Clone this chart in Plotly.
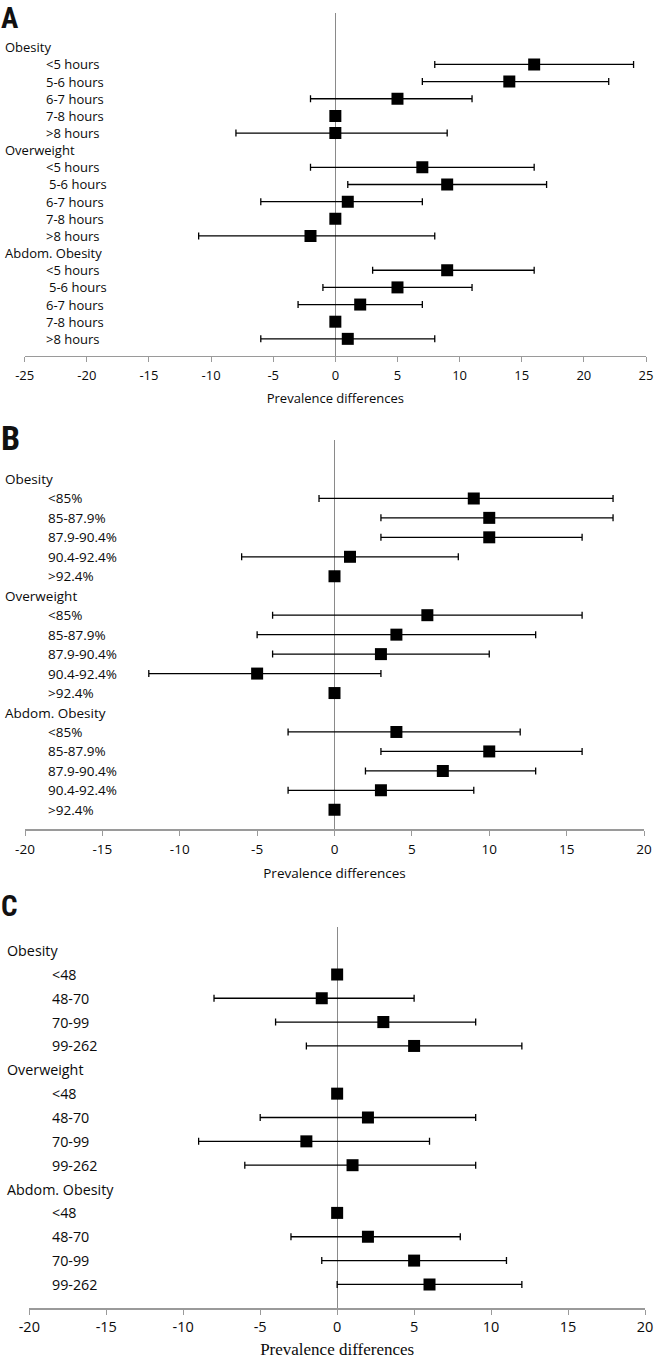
import plotly.graph_objects as go

W, H = 654, 1359

# ---------------- data ----------------
groups = ["Obesity", "Overweight", "Abdom. Obesity"]

A_categories = ["<5 hours", "5-6 hours", "6-7 hours", "7-8 hours", ">8 hours"]
A_estimate = [16, 14, 5, 0, 0,   7, 9, 1, 0, -2,   9, 5, 2, 0, 1]
A_lower    = [8, 7, -2, 0, -8,  -2, 1, -6, 0, -11,  3, -1, -3, 0, -6]
A_upper    = [24, 22, 11, 0, 9,  16, 17, 7, 0, 8,   16, 11, 7, 0, 8]
A_ticks = [-25, -20, -15, -10, -5, 0, 5, 10, 15, 20, 25]

B_categories = ["<85%", "85-87.9%", "87.9-90.4%", "90.4-92.4%", ">92.4%"]
B_estimate = [9, 10, 10, 1, 0,   6, 4, 3, -5, 0,   4, 10, 7, 3, 0]
B_lower    = [-1, 3, 3, -6, 0,  -4, -5, -4, -12, 0,  -3, 3, 2, -3, 0]
B_upper    = [18, 18, 16, 8, 0,  16, 13, 10, 3, 0,   12, 16, 13, 9, 0]
B_ticks = [-20, -15, -10, -5, 0, 5, 10, 15, 20]

C_categories = ["<48", "48-70", "70-99", "99-262"]
C_estimate = [0, -1, 3, 5,   0, 2, -2, 1,   0, 2, 5, 6]
C_lower    = [0, -8, -4, -2,  0, -5, -9, -6,  0, -3, -1, 0]
C_upper    = [0, 5, 9, 12,   0, 9, 6, 9,    0, 8, 11, 12]
C_ticks = [-20, -15, -10, -5, 0, 5, 10, 15, 20]

x_title = "Prevalence differences"

# ---------------- layout of panels (pixel geometry) ----------------
panels = [
    dict(letter="A", cats=A_categories, est=A_estimate, lo=A_lower, hi=A_upper, ticks=A_ticks,
         xpx=(24.7, 646.0), ypx=(13, 356), yr=(18, -2), lab_fs=13, tick_fs=13,
         hx=3, ix=44, letter_y=0, letter_fs=29, title_font="Open Sans", title_fs=13,
         standoff=11, tls=2, indent=3),
    dict(letter="B", cats=B_categories, est=B_estimate, lo=B_lower, hi=B_upper, ticks=B_ticks,
         xpx=(25, 644), ypx=(440, 829.3), yr=(18, -2), lab_fs=13.5, tick_fs=13.5,
         hx=3, ix=45.7, letter_y=417, letter_fs=34, title_font="Open Sans", title_fs=13.5,
         standoff=11, tls=2, indent=0),
    dict(letter="C", cats=C_categories, est=C_estimate, lo=C_lower, hi=C_upper, ticks=C_ticks,
         xpx=(29.3, 645), ypx=(926.7, 1308.3), yr=(15, -1), lab_fs=14.3, tick_fs=14.5,
         hx=5.3, ix=50, letter_y=888, letter_fs=29, title_font="Liberation Serif", title_fs=17,
         standoff=11, tls=0, indent=0),
]

fig = go.Figure()
annotations = []
layout = dict(
    width=W, height=H,
    margin=dict(l=0, r=0, t=0, b=0),
    paper_bgcolor="white", plot_bgcolor="white",
    showlegend=False,
)

LAB_FONT = "Open Sans"
TXT = "#0a0a0a"
for k, p in enumerate(panels):
    sfx = "" if k == 0 else str(k + 1)
    xa, ya = "x" + sfx, "y" + sfx
    n = len(p["cats"])
    ys = []
    for g, gname in enumerate(groups):
        base = g * (n + 1)
        annotations.append(dict(
            text=gname, xref="paper", x=p["hx"] / W, xanchor="left",
            yref=ya, y=base, yanchor="middle", showarrow=False,
            font=dict(family=LAB_FONT, size=p["lab_fs"], color=TXT)))
        for i, c in enumerate(p["cats"]):
            ys.append(base + 1 + i)
            shift = p["indent"] if (g > 0 and i == 1) else 0
            annotations.append(dict(
                text=c, xref="paper", x=(p["ix"] + shift) / W, xanchor="left",
                yref=ya, y=base + 1 + i, yanchor="middle", showarrow=False,
                font=dict(family=LAB_FONT, size=p["lab_fs"], color=TXT)))
    est, lo, hi = p["est"], p["lo"], p["hi"]
    fig.add_trace(go.Scatter(
        x=est, y=ys, mode="markers", xaxis=xa, yaxis=ya,
        marker=dict(symbol="square", size=12, color="black", line=dict(width=0)),
        error_x=dict(type="data", symmetric=False,
                     array=[h - e for h, e in zip(hi, est)],
                     arrayminus=[e - l for e, l in zip(est, lo)],
                     color="black", thickness=1.3, width=3.5),
        hoverinfo="skip"))
    x0, x1 = p["xpx"]
    y0, y1 = p["ypx"]
    layout["xaxis" + sfx] = dict(
        domain=[x0 / W, x1 / W], anchor=ya, range=[p["ticks"][0], p["ticks"][-1]],
        tickvals=p["ticks"], ticktext=[str(v) for v in p["ticks"]],
        ticks="outside", ticklen=5, tickcolor="#9a9a9a", tickwidth=1,
        showline=True, linecolor="#9a9a9a", linewidth=1.3, showgrid=False,
        zeroline=True, zerolinecolor="#8a8a8a", zerolinewidth=1.2,
        ticklabeloverflow="allow", ticklabelstandoff=p["tls"],
        tickfont=dict(family=LAB_FONT, size=p["tick_fs"], color=TXT),
        title=dict(text=x_title, standoff=p["standoff"],
                   font=dict(family=p["title_font"], size=p["title_fs"], color=TXT)),
        automargin=False, fixedrange=True)
    layout["yaxis" + sfx] = dict(
        domain=[1 - y1 / H, 1 - y0 / H], anchor=xa, range=list(p["yr"]),
        visible=False, showgrid=False, zeroline=False, fixedrange=True)
    annotations.append(dict(
        text="<b>" + p["letter"] + "</b>", xref="paper", yref="paper",
        x=0, y=1 - p["letter_y"] / H, xanchor="left", yanchor="top",
        showarrow=False, borderpad=0,
        font=dict(family="Liberation Sans Narrow, Roboto Condensed, Roboto", size=p["letter_fs"], color="#111")))

layout["annotations"] = annotations
fig.update_layout(**layout)
fig.write_html("out.html", config={"displayModeBar": False, "staticPlot": True},
               post_script="document.body.style.margin='0';document.body.style.padding='0';")
